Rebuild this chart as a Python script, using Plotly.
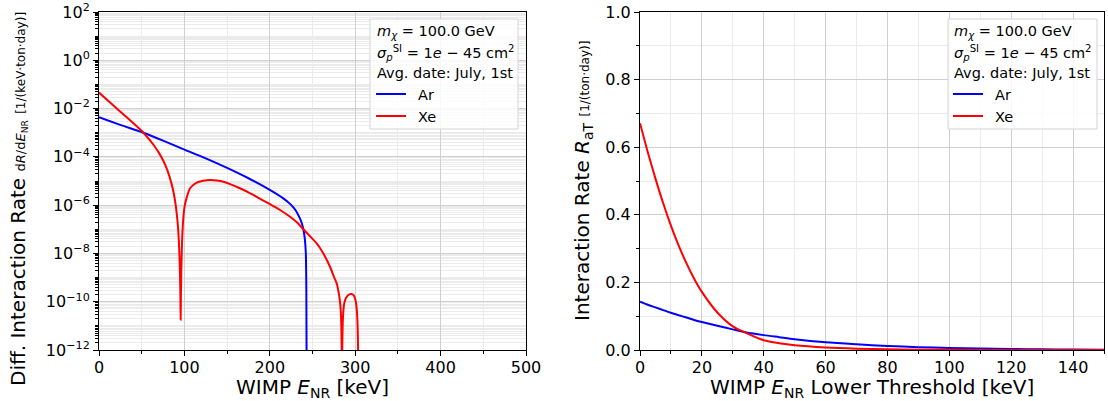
import plotly.graph_objects as go

# ---------------- data ----------------
# Left panel: differential interaction rate dR/dE_NR  [1/(keV ton day)]
ar_energy = [0, 25, 52, 75, 100, 125, 150, 175, 200, 215, 224, 230, 234, 237,
             239.3, 241, 242.2, 242.8, 243.2]
ar_diff_rate = [4.4e-3, 2.1e-3, 1.0e-3, 4.7e-4, 2.0e-4, 8.7e-5, 3.5e-5, 1.3e-5,
                4.3e-6, 2.0e-6, 1.1e-6, 6.3e-7, 3.5e-7, 2.0e-7,
                1.0e-7, 4.0e-8, 1.0e-8, 3.2e-10, 1e-14]

xe_energy = [0, 10, 25, 40, 52, 60, 65, 70, 75, 80, 85, 88, 90, 92, 93.5, 94.5,
             95.2, 95.6, 96.0, 96.7, 97.5, 98.8, 100.5, 102.6, 106.6, 114.4, 122,
             130, 138, 145.6, 155, 165, 175, 184.6, 200.2, 212, 223.7, 232, 239.3,
             247, 254.9, 262.7, 270.5, 275, 278.3, 281, 282.5, 283.5, 284.1, 284.5,
             284.9, 285.6, 287, 289, 292, 295.8, 298.5, 300.5, 302, 303, 303.6, 304]
xe_diff_rate = [4.6e-2, 2.2e-2, 7.4e-3, 2.5e-3, 1.0e-3, 4.7e-4, 2.75e-4, 1.5e-4,
                7.2e-5, 2.8e-5, 7.6e-6, 2.5e-6, 8.9e-7, 2.0e-7, 3.2e-8, 4.0e-9,
                3.2e-10, 1.8e-11, 3.2e-10, 6.3e-9, 5.0e-8, 3.2e-7, 1.0e-6, 2.0e-6,
                5.0e-6, 8.5e-6, 1.02e-5, 1.1e-5, 1.05e-5, 9.3e-6, 7.1e-6, 5.0e-6,
                3.4e-6, 2.2e-6, 1.1e-6, 6.3e-7, 3.3e-7, 1.9e-7, 1.0e-7,
                5.2e-8, 2.6e-8, 1.0e-8, 2.8e-9, 1.1e-9, 5.8e-10, 2.0e-10, 7.9e-11,
                2.0e-11, 1.6e-12, 1e-14,
                1.6e-12, 2.0e-11, 7.9e-11, 1.4e-10, 1.9e-10, 2.1e-10, 1.8e-10,
                1.1e-10, 4.0e-11, 6.3e-12, 3.2e-13, 1e-14]

# Right panel: integrated interaction rate R_aT [1/(ton day)] vs lower threshold
thr_energy = [0, 2.5, 5, 7.5, 10, 12.5, 15, 17.5, 20, 25, 30, 34.4, 40, 45, 50,
              60, 70, 80, 90, 100, 110, 120, 130, 140, 150]
ar_int_rate = [0.143, 0.134, 0.126, 0.118, 0.110, 0.103, 0.096, 0.089, 0.083,
               0.072, 0.061, 0.052, 0.044, 0.038, 0.032, 0.023, 0.017, 0.012,
               0.0085, 0.006, 0.0043, 0.003, 0.002, 0.0014, 0.001]
xe_int_rate = [0.671, 0.586, 0.507, 0.434, 0.368, 0.309, 0.257, 0.211, 0.172,
               0.111, 0.070, 0.050, 0.029, 0.020, 0.014, 0.0075, 0.004,
               0.002, 0.001, 0.0005, 0.0003, 0.00015, 0.0001, 0.00005, 0.00003]

left_yticks = [1e-12, 1e-10, 1e-8, 1e-6, 1e-4, 1e-2, 1e0, 1e2]
left_yticklabels = ["10<sup>−12</sup>", "10<sup>−10</sup>", "10<sup>−8</sup>",
                    "10<sup>−6</sup>", "10<sup>−4</sup>", "10<sup>−2</sup>",
                    "10<sup>0</sup>", "10<sup>2</sup>"]
left_xticks = [0, 100, 200, 300, 400, 500]
right_xticks = [0, 20, 40, 60, 80, 100, 120, 140]
right_yticks = [0.0, 0.2, 0.4, 0.6, 0.8, 1.0]

legend_lines = ["<i>m</i><sub><i>χ</i></sub> = 100.0 GeV",
                "<i>σ</i><sub><i>p</i></sub><sup>SI</sup> = 1<i>e</i> − 45 cm<sup>2</sup>",
                "Avg. date: July, 1st"]
series_names = ["Ar", "Xe"]

# ---------------- figure ----------------
BLUE = "#0000ff"
RED = "#ff0000"
FONT = "DejaVu Sans"
MAJ_GRID = "#cfcfcf"
MIN_GRID = "#ebebeb"
W, H = 1108, 401


def px(x):
    return x / W


def py(y):
    return 1 - y / H


# sub-decade positions (and odd decades) for the log axis
minor_log = []
for k in range(-12, 2):
    for m in range(2, 10):
        minor_log.append(m * 10.0 ** k)
for k in range(-11, 2, 2):
    minor_log.append(10.0 ** k)

fig = go.Figure()
line_kw = dict(width=2)
fig.add_trace(go.Scatter(x=ar_energy, y=ar_diff_rate, mode="lines", name="Ar",
                         line=dict(color=BLUE, shape="spline", smoothing=0.6, **line_kw),
                         xaxis="x", yaxis="y", showlegend=False))
fig.add_trace(go.Scatter(x=xe_energy, y=xe_diff_rate, mode="lines", name="Xe",
                         line=dict(color=RED, shape="spline", smoothing=0.6, **line_kw),
                         xaxis="x", yaxis="y", showlegend=False))
fig.add_trace(go.Scatter(x=thr_energy, y=ar_int_rate, mode="lines", name="Ar",
                         line=dict(color=BLUE, shape="spline", smoothing=0.8, **line_kw),
                         xaxis="x2", yaxis="y2", showlegend=False))
fig.add_trace(go.Scatter(x=thr_energy, y=xe_int_rate, mode="lines", name="Xe",
                         line=dict(color=RED, shape="spline", smoothing=0.8, **line_kw),
                         xaxis="x2", yaxis="y2", showlegend=False))

common_axis = dict(showline=True, linecolor="black", linewidth=1, mirror=True,
                   ticks="outside", ticklen=5, tickcolor="black", tickwidth=1,
                   zeroline=False, showgrid=True, gridcolor=MAJ_GRID, gridwidth=1,
                   tickfont=dict(family=FONT, size=16, color="black"),
                   automargin=False)

dom_y = [py(350), py(12)]

fig.update_layout(
    width=W, height=H,
    margin=dict(l=0, r=0, t=0, b=0),
    paper_bgcolor="white", plot_bgcolor="white",
    font=dict(family=FONT, color="black"),
    showlegend=False,
    xaxis=dict(domain=[px(99), px(526)], range=[0, 500], anchor="y",
               tickvals=left_xticks,
               minor=dict(dtick=50, ticks="outside", ticklen=3, tickcolor="black",
                          showgrid=True, gridcolor=MIN_GRID),
               **common_axis),
    yaxis=dict(domain=dom_y, type="log", range=[-12, 2], anchor="x",
               tickvals=left_yticks, ticktext=left_yticklabels,
               minor=dict(tickvals=minor_log, ticks="outside", ticklen=3,
                          tickcolor="black", showgrid=True, gridcolor=MIN_GRID),
               **common_axis),
    xaxis2=dict(domain=[px(640), px(1104)], range=[0, 150], anchor="y2",
                tickvals=right_xticks,
                minor=dict(dtick=10, ticks="outside", ticklen=3, tickcolor="black",
                           showgrid=True, gridcolor=MIN_GRID),
                **common_axis),
    yaxis2=dict(domain=dom_y, range=[0, 1], anchor="x2",
                tickvals=right_yticks, tickformat=".1f",
                minor=dict(dtick=0.1, ticks="outside", ticklen=3, tickcolor="black",
                           showgrid=True, gridcolor=MIN_GRID),
                **common_axis),
)

# pull the x tick labels a little closer to the axis, if supported
try:
    fig.update_xaxes(ticklabelstandoff=-2)
except Exception:
    pass

TITLE_FONT = dict(family=FONT, size=20, color="black")

# axis titles
fig.add_annotation(xref="paper", yref="paper", x=px(312.5), y=py(388),
                   xanchor="center", yanchor="middle", showarrow=False,
                   text="WIMP <i>E</i><sub>NR</sub> [keV]", font=TITLE_FONT)
fig.add_annotation(xref="paper", yref="paper", x=px(872), y=py(388),
                   xanchor="center", yanchor="middle", showarrow=False,
                   text="WIMP <i>E</i><sub>NR</sub> Lower Threshold [keV]",
                   font=TITLE_FONT)
fig.add_annotation(
    xref="paper", yref="paper", x=px(18), y=py(199),
    xanchor="center", yanchor="middle", textangle=-90, showarrow=False,
    text=("Diff. Interaction Rate "
          "<span style='font-size:13px'>d<i>R</i>/d<i>E</i><sub>NR</sub></span> "
          "<span style='font-size:12px'>[1/(keV·ton·day)]</span>"),
    font=TITLE_FONT)
fig.add_annotation(
    xref="paper", yref="paper", x=px(583), y=py(181),
    xanchor="center", yanchor="middle", textangle=-90, showarrow=False,
    text=("Interaction Rate <i>R</i><sub>aT</sub> "
          "<span style='font-size:12px'>[1/(ton·day)]</span>"),
    font=TITLE_FONT)

# legend boxes (drawn by hand so the spacing matches)
LEG_FONT = dict(family=FONT, size=14.5, color="black")
for (bx0, bx1, tx) in [(370, 518, 376), (948, 1097, 953)]:
    fig.add_shape(type="rect", xref="paper", yref="paper",
                  x0=px(bx0), x1=px(bx1), y0=py(129), y1=py(19),
                  line=dict(color="#d4d4d4", width=1),
                  fillcolor="rgba(255,255,255,0.85)", layer="above")
    for i, txt in enumerate(legend_lines):
        fig.add_annotation(xref="paper", yref="paper", x=px(tx - 1),
                           y=py(32 + 20.7 * i), xanchor="left", yanchor="middle",
                           showarrow=False, text=txt, font=LEG_FONT)
    for i, (name, col) in enumerate(zip(series_names, [BLUE, RED])):
        ly = 94 + 22 * i
        fig.add_shape(type="line", xref="paper", yref="paper",
                      x0=px(tx), x1=px(tx + 30), y0=py(ly), y1=py(ly),
                      line=dict(color=col, width=2), layer="above")
        fig.add_annotation(xref="paper", yref="paper", x=px(tx + 40), y=py(ly + 1),
                           xanchor="left", yanchor="middle", showarrow=False,
                           text=name, font=LEG_FONT)

fig.write_html("out.html")
